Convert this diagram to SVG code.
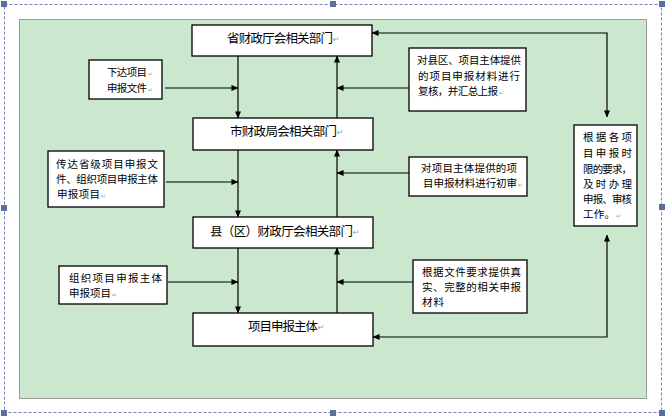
<svg xmlns="http://www.w3.org/2000/svg" width="665" height="416" viewBox="0 0 665 416">
<defs>
<marker id="arr" viewBox="0 0 8 8" refX="7.5" refY="4" markerWidth="7" markerHeight="7" markerUnits="userSpaceOnUse" orient="auto-start-reverse">
<path d="M0,0.5 L8,4 L0,7.5 Z" fill="#000"/>
</marker>
</defs>
<style>
.box{fill:#fff;stroke:#000;stroke-width:1.3}
.main{font-family:"Noto Sans CJK SC","Noto Sans CJK TC",sans-serif;font-size:12.5px;fill:#000}
.side{font-family:"Noto Sans CJK SC","Noto Sans CJK TC",sans-serif;font-size:10.5px;fill:#000}
.pm{font-family:"DejaVu Sans",sans-serif;font-size:8px;fill:#9a9a9a}
.pms{font-family:"DejaVu Sans",sans-serif;font-size:6px;fill:#a0a0a0}
.ln{fill:none;stroke:#000;stroke-width:1.2}
.h{fill:#5b6f9e}
</style>
<rect x="0" y="0" width="665" height="416" fill="#fff"/>
<rect x="4.5" y="4.5" width="657" height="408" fill="none" stroke="#7386ad" stroke-width="1" stroke-dasharray="3 2"/>
<rect x="19.5" y="19.5" width="627" height="379" fill="#cbe7cd" stroke="#9a9a9a" stroke-width="1"/>
<g id="handles">
<rect class="h" x="1" y="1" width="6" height="6"/>
<rect class="h" x="330" y="1" width="6" height="6"/>
<rect class="h" x="659" y="1" width="6" height="6"/>
<rect class="h" x="1" y="205" width="6" height="6"/>
<rect class="h" x="659" y="204" width="6" height="6"/>
<rect class="h" x="1" y="410" width="6" height="6"/>
<rect class="h" x="330" y="410" width="6" height="6"/>
<rect class="h" x="659" y="410" width="6" height="6"/>
</g>
<g id="connectors">
<line class="ln" x1="238" y1="56" x2="238" y2="118" marker-end="url(#arr)"/>
<line class="ln" x1="238" y1="150" x2="238" y2="217" marker-end="url(#arr)"/>
<line class="ln" x1="238" y1="248" x2="238" y2="313" marker-end="url(#arr)"/>
<line class="ln" x1="337" y1="118" x2="337" y2="56" marker-end="url(#arr)"/>
<line class="ln" x1="337" y1="217" x2="337" y2="150" marker-end="url(#arr)"/>
<line class="ln" x1="337" y1="313" x2="337" y2="248" marker-end="url(#arr)"/>
<line class="ln" x1="165" y1="88" x2="238" y2="88" marker-end="url(#arr)"/>
<line class="ln" x1="166" y1="182" x2="238" y2="182" marker-end="url(#arr)"/>
<line class="ln" x1="168" y1="282" x2="238" y2="282" marker-end="url(#arr)"/>
<line class="ln" x1="409" y1="88" x2="337" y2="88" marker-end="url(#arr)"/>
<line class="ln" x1="409" y1="173" x2="337" y2="173" marker-end="url(#arr)"/>
<line class="ln" x1="413" y1="282" x2="337" y2="282" marker-end="url(#arr)"/>
<path class="ln" d="M607,117 V33 H372" marker-start="url(#arr)" marker-end="url(#arr)"/>
<path class="ln" d="M607,235 V337 H373" marker-start="url(#arr)" marker-end="url(#arr)"/>
</g>
<g id="n1">
<rect class="box" x="192" y="25" width="180" height="31"/>
<text class="main" x="227" y="42.5" textLength="106">省财政厅会相关部门</text>
<text class="pm" x="333" y="42">↵</text>
</g>
<g id="n2">
<rect class="box" x="193" y="118" width="180" height="32"/>
<text class="main" x="230" y="135.5" textLength="107">市财政局会相关部门</text>
<text class="pm" x="337" y="135">↵</text>
</g>
<g id="n3">
<rect class="box" x="193" y="217" width="180" height="31"/>
<text class="main" x="210" y="235.5" textLength="143">县（区）财政厅会相关部门</text>
<text class="pm" x="353" y="235">↵</text>
</g>
<g id="n4">
<rect class="box" x="193" y="313" width="180" height="33"/>
<text class="main" x="248" y="330.5" textLength="70">项目申报主体</text>
<text class="pm" x="318" y="330">↵</text>
</g>
<g id="sA">
<rect class="box" x="89" y="60" width="73" height="39"/>
<text class="side" x="107" y="76" textLength="40">下达项目</text>
<text class="pms" x="148" y="76">↵</text>
<text class="side" x="107" y="91.5" textLength="40">申报文件</text>
<text class="pms" x="148" y="91.5">↵</text>
</g>
<g id="sB">
<rect class="box" x="48" y="151" width="116" height="56"/>
<text class="side" x="56" y="167.5" textLength="102">传达省级项目申报文</text>
<text class="side" x="56" y="183" textLength="102">件、组织项目申报主体</text>
<text class="side" x="57" y="198" textLength="43">申报项目</text>
<text class="pms" x="101" y="198">↵</text>
</g>
<g id="sC">
<rect class="box" x="59" y="266" width="108" height="38"/>
<text class="side" x="69" y="281.5" textLength="93">组织项目申报主体</text>
<text class="side" x="69" y="296.5" textLength="42">申报项目</text>
<text class="pms" x="112" y="296.5">↵</text>
</g>
<g id="sD">
<rect class="box" x="409" y="48" width="117" height="63"/>
<text class="side" x="417" y="64" textLength="104">对县区、项目主体提供</text>
<text class="side" x="418" y="80" textLength="102">的项目申报材料进行</text>
<text class="side" x="418" y="95" textLength="80">复核，并汇总上报</text>
<text class="pms" x="499" y="95">↵</text>
</g>
<g id="sE">
<rect class="box" x="409" y="157" width="118" height="39"/>
<text class="side" x="421" y="172" textLength="96">对项目主体提供的项</text>
<text class="side" x="423" y="187" textLength="94">目申报材料进行初审</text>
<text class="pms" x="518" y="187">↵</text>
</g>
<g id="sF">
<rect class="box" x="413" y="260" width="114" height="53"/>
<text class="side" x="422" y="275.5" textLength="99">根据文件要求提供真</text>
<text class="side" x="422" y="290.5" textLength="99">实、完整的相关申报</text>
<text class="side" x="422" y="305.5" textLength="22">材料</text>
</g>
<g id="sG">
<rect class="box" x="574" y="125" width="63" height="101"/>
<text class="side" x="583" y="141" textLength="49">根据各项</text>
<text class="side" x="583" y="157" textLength="49">目申报时</text>
<text class="side" x="583" y="173" textLength="49">限的要求，</text>
<text class="side" x="583" y="188" textLength="49">及时办理</text>
<text class="side" x="583" y="203" textLength="49">申报、审核</text>
<text class="side" x="583" y="218" textLength="32">工作。</text>
<text class="pms" x="616" y="218">↵</text>
</g>
</svg>
